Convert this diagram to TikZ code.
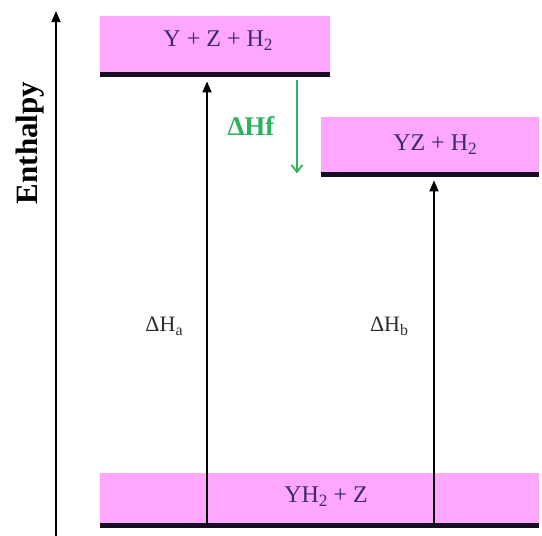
\documentclass[tikz,border=0pt]{standalone}
\usepackage{fontspec}
\setmainfont{Liberation Serif}
\usetikzlibrary{arrows.meta}
\definecolor{levelpink}{RGB}{255,166,255}
\definecolor{levelink}{RGB}{58,44,104}
\definecolor{barink}{RGB}{22,12,36}
\definecolor{shiftgreen}{RGB}{46,178,92}
\definecolor{labelgray}{RGB}{45,45,45}
% subscript set low, as in the level labels
\newcommand\lowsub[1]{\raisebox{-0.45ex}{\scalebox{0.72}{#1}}}
\tikzset{
  levelbox/.style={rectangle, fill=levelpink, draw=none, inner sep=0pt, anchor=north west},
  levellabel/.style={text=levelink, font=\fontsize{24}{28}\selectfont, anchor=base},
  levelbar/.style={draw=barink, line width=5pt},
  uparrow/.style={draw=black, line width=1.8pt, -{Triangle[length=11pt,width=9pt]}},
  shiftarrow/.style={draw=shiftgreen, line width=1.8pt, -{Straight Barb[length=7pt,width=11pt,line width=1.8pt]}},
  deltalabel/.style={text=labelgray, font=\fontsize{22}{26}\selectfont, anchor=base},
}
\begin{document}
\begin{tikzpicture}[x=1pt,y=-1pt]
  \useasboundingbox (0,0) rectangle (542,536);

  % energy levels
  \node[levelbox, minimum width=230pt, minimum height=58pt] (top) at (100,16) {};
  \node[levelbox, minimum width=218pt, minimum height=57pt] (mid) at (321,117) {};
  \node[levelbox, minimum width=439pt, minimum height=52pt] (bot) at (100,473) {};
  \draw[levelbar] (top.south west) -- (top.south east);
  \draw[levelbar] (mid.south west) -- (mid.south east);
  \draw[levelbar] (bot.south west) -- (bot.south east);

  % level labels
  \node[levellabel] (topL) at (218,46) {Y + Z + H\lowsub{2}};
  \node[levellabel] (midL) at (435,150) {YZ + H\lowsub{2}};
  \node[levellabel] (botL) at (326,502) {YH\lowsub{2} + Z};

  % enthalpy axis
  \coordinate (axisFoot) at (56,536);
  \coordinate (axisTop) at (56,11);
  \draw[uparrow] (axisFoot) -- (axisTop);
  \node[rotate=90, font=\bfseries\fontsize{31}{36}\selectfont] (axisL) at (30,143) {Enthalpy};

  % enthalpy changes
  \coordinate (aFoot) at (207,525);
  \coordinate (bFoot) at (434,525);
  \draw[uparrow] (aFoot) -- (aFoot |- top.south) [shorten >=7pt];
  \draw[uparrow] (bFoot) -- (bFoot |- mid.south) [shorten >=6pt];
  \node[deltalabel] (haL) at (164,331) {ΔH\lowsub{a}};
  \node[deltalabel] (hbL) at (389,331) {ΔH\lowsub{b}};

  \coordinate (fTop) at (297,80);
  \draw[shiftarrow] (fTop) -- (fTop |- mid.south) [shorten >=1pt];
  \node[text=shiftgreen, font=\bfseries\fontsize{27}{30}\selectfont, anchor=base] (hfL) at (251,135) {ΔHf};
\end{tikzpicture}
\end{document}
